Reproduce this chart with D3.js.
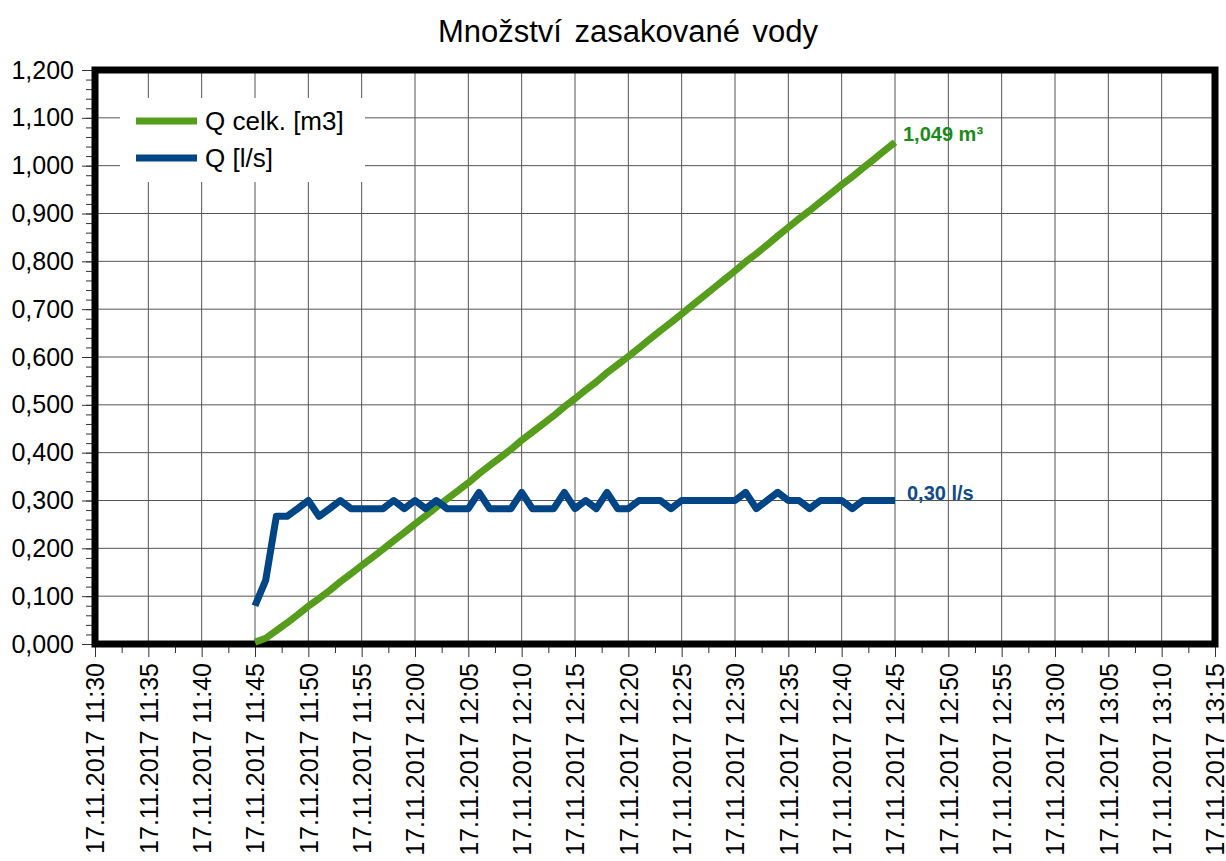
<!DOCTYPE html>
<html>
<head>
<meta charset="utf-8">
<script src="https://cdn.jsdelivr.net/npm/d3@7"></script>
<style>
  body { margin: 0; background: #fff; }
  text { font-family: "Liberation Sans", Arial, sans-serif; }
</style>
</head>
<body>
<div id="chart"></div>
<script>
// data, one value per minute 11:45 .. 12:45
var times = ["11:45","11:46","11:47","11:48","11:49","11:50","11:51","11:52","11:53","11:54",
  "11:55","11:56","11:57","11:58","11:59","12:00","12:01","12:02","12:03","12:04",
  "12:05","12:06","12:07","12:08","12:09","12:10","12:11","12:12","12:13","12:14",
  "12:15","12:16","12:17","12:18","12:19","12:20","12:21","12:22","12:23","12:24",
  "12:25","12:26","12:27","12:28","12:29","12:30","12:31","12:32","12:33","12:34",
  "12:35","12:36","12:37","12:38","12:39","12:40","12:41","12:42","12:43","12:44","12:45"];

// Q [l/s]
var qFlow = [0.080,0.133,0.267,0.267,0.283,0.300,0.267,0.283,0.300,0.283,
  0.283,0.283,0.283,0.300,0.283,0.300,0.283,0.300,0.283,0.283,
  0.283,0.317,0.283,0.283,0.283,0.317,0.283,0.283,0.283,0.317,
  0.283,0.300,0.283,0.317,0.283,0.283,0.300,0.300,0.300,0.283,
  0.300,0.300,0.300,0.300,0.300,0.300,0.317,0.283,0.300,0.317,
  0.300,0.300,0.283,0.300,0.300,0.300,0.283,0.300,0.300,0.300,0.300];

// Q celk. [m3]
var qTotal = [0.004,0.012,0.028,0.044,0.061,0.079,0.095,0.112,0.130,0.147,
  0.164,0.181,0.198,0.216,0.233,0.251,0.268,0.286,0.303,0.320,
  0.337,0.356,0.373,0.390,0.407,0.426,0.443,0.460,0.477,0.496,
  0.513,0.531,0.548,0.567,0.584,0.601,0.619,0.637,0.655,0.672,
  0.690,0.708,0.726,0.744,0.762,0.780,0.799,0.816,0.834,0.853,
  0.871,0.889,0.906,0.924,0.942,0.960,0.977,0.995,1.013,1.031,1.049];

var xTicks = ["11:30","11:35","11:40","11:45","11:50","11:55","12:00","12:05","12:10","12:15",
  "12:20","12:25","12:30","12:35","12:40","12:45","12:50","12:55","13:00","13:05","13:10","13:15"];
var yTicks = [0,0.1,0.2,0.3,0.4,0.5,0.6,0.7,0.8,0.9,1.0,1.1,1.2];

var seriesNames = ["Q celk. [m3]", "Q [l/s]"];
var endLabels = ["1,049 m³", "0,30 l/s"];

var day = "2017-11-17";
function toDate(t){ return new Date(day + "T" + t + ":00"); }

var svg = d3.select("#chart").append("svg").attr("width", 1226).attr("height", 861);

var plotL = 95, plotR = 1215, plotT = 70, plotB = 644;

var x = d3.scaleTime().domain([toDate("11:30"), toDate("13:15")]).range([plotL, plotR]);
var y = d3.scaleLinear().domain([0, 1.2]).range([plotB, plotT]);

var cz = d3.formatLocale({decimal: ",", thousands: " ", grouping: [3], currency: ["", ""]});
var fmtY = cz.format(".3f");
var fmtX = d3.timeFormat("%d.%m.%Y %H:%M");

// title
svg.append("text")
  .attr("x", 628).attr("y", 42)
  .attr("text-anchor", "middle")
  .attr("font-size", 31)
  .attr("word-spacing", 4)
  .text("Množství zasakované vody");

// grid
var grid = svg.append("g");
grid.selectAll(".vg").data(xTicks).enter().append("line")
  .attr("x1", function(d){ return x(toDate(d)); })
  .attr("x2", function(d){ return x(toDate(d)); })
  .attr("y1", plotT).attr("y2", plotB)
  .attr("stroke", "#555").attr("stroke-width", 1);
grid.selectAll(".hg").data(yTicks).enter().append("line")
  .attr("x1", plotL).attr("x2", plotR)
  .attr("y1", function(d){ return y(d); })
  .attr("y2", function(d){ return y(d); })
  .attr("stroke", "#555").attr("stroke-width", 1);

// minor ticks
var minorY = d3.range(0, 61).map(function(i){ return i * 0.02; });
svg.append("g").attr("transform", "translate(" + plotL + ",0)")
  .call(d3.axisLeft(y).tickValues(minorY).tickSize(9).tickFormat(""))
  .call(function(g){ g.select(".domain").remove(); g.selectAll("line").attr("stroke", "#333"); });

var minorX = [];
xTicks.forEach(function(t, i){
  if (i < xTicks.length - 1) minorX.push(new Date(toDate(t).getTime() + 150000));
});
svg.append("g").attr("transform", "translate(0," + plotB + ")")
  .call(d3.axisBottom(x).tickValues(minorX).tickSize(9).tickFormat(""))
  .call(function(g){ g.select(".domain").remove(); g.selectAll("line").attr("stroke", "#333"); });

// major axes
svg.append("g").attr("transform", "translate(" + plotL + ",0)")
  .call(d3.axisLeft(y).tickValues(yTicks).tickSize(13).tickPadding(8).tickFormat(fmtY))
  .call(function(g){
    g.select(".domain").remove();
    g.selectAll("line").attr("stroke", "#333");
    g.selectAll("text").attr("font-size", 25).attr("fill", "#000")
      .attr("font-family", "Liberation Sans, Arial, sans-serif");
  });

svg.append("g").attr("transform", "translate(0," + plotB + ")")
  .call(d3.axisBottom(x).tickValues(xTicks.map(toDate)).tickSize(13).tickFormat(fmtX))
  .call(function(g){
    g.select(".domain").remove();
    g.selectAll("line").attr("stroke", "#333");
    g.selectAll("text")
      .attr("font-size", 25).attr("fill", "#000")
      .attr("font-family", "Liberation Sans, Arial, sans-serif")
      .attr("transform", "rotate(-90)")
      .attr("text-anchor", "end")
      .attr("x", -19).attr("y", 0).attr("dy", "0.35em");
  });

// frame
svg.append("rect")
  .attr("x", plotL).attr("y", plotT)
  .attr("width", plotR - plotL).attr("height", plotB - plotT)
  .attr("fill", "none").attr("stroke", "#000").attr("stroke-width", 7);

// lines
var line = d3.line()
  .x(function(d){ return x(toDate(d[0])); })
  .y(function(d){ return y(d[1]); });

var colors = ["#579d1c", "#004586"];
var textColors = ["#1a8a1a", "#0f4a8a"];
var labelDx = [8, 12];
var series = [qTotal, qFlow];

series.forEach(function(vals, i){
  var pts = times.map(function(t, j){ return [t, vals[j]]; });
  svg.append("path").datum(pts)
    .attr("d", line)
    .attr("fill", "none")
    .attr("stroke", colors[i])
    .attr("stroke-width", 7)
    .attr("stroke-linejoin", "round");
  var last = pts[pts.length - 1];
  svg.append("text")
    .attr("x", x(toDate(last[0])) + labelDx[i])
    .attr("y", y(last[1]) - 1)
    .attr("font-size", 20).attr("font-weight", "bold")
    .attr("fill", textColors[i])
    .text(endLabels[i]);
});

// legend
var legend = svg.append("g");
legend.append("rect")
  .attr("x", 120).attr("y", 98).attr("width", 245).attr("height", 84)
  .attr("fill", "#fff");
seriesNames.forEach(function(name, i){
  var ly = 121 + i * 37;
  legend.append("line")
    .attr("x1", 136).attr("x2", 197).attr("y1", ly).attr("y2", ly)
    .attr("stroke", colors[i]).attr("stroke-width", 7);
  legend.append("text")
    .attr("x", 205).attr("y", ly).attr("dy", "0.35em")
    .attr("font-size", 26)
    .text(name);
});
</script>
</body>
</html>
